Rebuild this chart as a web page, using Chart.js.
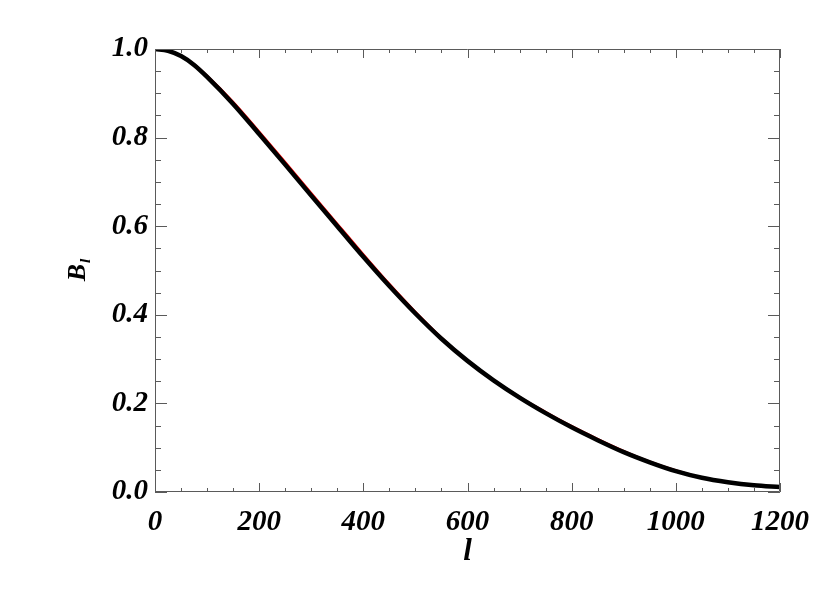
<!DOCTYPE html>
<html>
<head>
<meta charset="utf-8">
<script src="https://cdn.jsdelivr.net/npm/chart.js@4"></script>
<style>
  html, body { margin: 0; padding: 0; background: #fff; }
  #wrap { width: 830px; height: 591px; }
</style>
</head>
<body>
<div id="wrap"><canvas id="beamChart" width="830" height="591"></canvas></div>
<script>
// multipole l
const ells = [0, 25, 50, 75, 100, 150, 200, 250, 300, 350, 400, 450, 500, 550, 600,
  650, 700, 750, 800, 850, 900, 950, 1000, 1050, 1100, 1150, 1200];
// beam window (black)
const beamBlack = [1.000, 0.996, 0.984, 0.964, 0.937, 0.876, 0.808, 0.739, 0.669, 0.600, 0.531,
  0.465, 0.403, 0.346, 0.296, 0.252, 0.213, 0.178, 0.146, 0.117, 0.090, 0.067, 0.047, 0.032,
  0.022, 0.015, 0.011];
// beam window (red)
const beamRed = [1.000, 0.996, 0.985, 0.966, 0.940, 0.881, 0.814, 0.745, 0.675, 0.606, 0.537,
  0.470, 0.407, 0.349, 0.298, 0.254, 0.215, 0.181, 0.149, 0.120, 0.093, 0.069, 0.049, 0.033,
  0.022, 0.015, 0.011];
const xTicks = [0, 200, 400, 600, 800, 1000, 1200];
const yTicks = [0.0, 0.2, 0.4, 0.6, 0.8, 1.0];

const labelFont = { family: "Liberation Serif", size: 29, weight: "bold", style: "italic" };

// IDL style frame with inward ticks on all four sides
const frameTicks = {
  id: "frameTicks",
  afterDatasetsDraw(chart) {
    const { ctx, chartArea: a, scales } = chart;
    const xs = scales.x, ys = scales.y;
    ctx.save();
    ctx.strokeStyle = "#5a5a5a";
    ctx.lineWidth = 1;
    ctx.beginPath();
    ctx.rect(a.left + 0.5, a.top + 0.5, a.right - a.left - 1, a.bottom - a.top - 1);
    for (let v = 0; v <= 1200; v += 50) {
      const px = Math.round(xs.getPixelForValue(v)) + 0.5;
      const len = v % 200 === 0 ? 9 : 4;
      ctx.moveTo(px, a.bottom); ctx.lineTo(px, a.bottom - len);
      ctx.moveTo(px, a.top); ctx.lineTo(px, a.top + len);
    }
    for (let i = 0; i <= 20; i++) {
      const py = Math.round(ys.getPixelForValue(i * 0.05)) + 0.5;
      const len = i % 4 === 0 ? 12 : 6;
      ctx.moveTo(a.left, py); ctx.lineTo(a.left + len, py);
      ctx.moveTo(a.right, py); ctx.lineTo(a.right - len, py);
    }
    ctx.stroke();

    // axis titles
    ctx.fillStyle = "#000";
    ctx.textAlign = "center";
    ctx.textBaseline = "middle";
    ctx.font = "italic bold 31px 'Liberation Serif'";
    ctx.fillText("l", (a.left + a.right) / 2, 552);

    ctx.translate(76, (a.top + a.bottom) / 2);
    ctx.rotate(-Math.PI / 2);
    ctx.textAlign = "left";
    ctx.textBaseline = "alphabetic";
    ctx.font = "italic bold 26px 'Liberation Serif'";
    const bw = ctx.measureText("B").width;
    ctx.font = "italic bold 15px 'Liberation Serif'";
    const lw = ctx.measureText("l").width;
    const x0 = -(bw + lw) / 2;
    ctx.font = "italic bold 26px 'Liberation Serif'";
    ctx.fillText("B", x0, 9);
    ctx.font = "italic bold 15px 'Liberation Serif'";
    ctx.fillText("l", x0 + bw + 1, 14);
    ctx.restore();
  }
};

new Chart(document.getElementById("beamChart"), {
  type: "line",
  data: {
    labels: ells,
    datasets: [
      {
        label: "red",
        data: ells.map((l, i) => ({ x: l, y: beamRed[i] })),
        borderColor: "#ff0000",
        borderWidth: 2,
        pointRadius: 0,
        cubicInterpolationMode: "monotone",
        order: 2,
      },
      {
        label: "black",
        data: ells.map((l, i) => ({ x: l, y: beamBlack[i] })),
        borderColor: "#000000",
        borderWidth: 4.5,
        pointRadius: 0,
        cubicInterpolationMode: "monotone",
        order: 1,
      },
    ],
  },
  options: {
    responsive: false,
    animation: false,
    layout: { padding: { top: 49, right: 50, bottom: 0, left: 0 } },
    plugins: { legend: { display: false }, tooltip: { enabled: false } },
    scales: {
      x: {
        type: "linear",
        min: 0,
        max: 1200,
        grid: { display: false, drawTicks: false },
        border: { display: false },
        afterFit: (s) => { s.height = 99; },
        afterBuildTicks: (s) => { s.ticks = xTicks.map((v) => ({ value: v })); },
        ticks: {
          color: "#000",
          font: labelFont,
          padding: 13,
          maxRotation: 0,
          callback: (v) => String(v),
        },
      },
      y: {
        type: "linear",
        min: 0,
        max: 1.0,
        grid: { display: false, drawTicks: false },
        border: { display: false },
        afterFit: (s) => { s.width = 155; },
        afterBuildTicks: (s) => { s.ticks = yTicks.map((v) => ({ value: v })); },
        ticks: {
          color: "#000",
          font: labelFont,
          padding: 7,
          callback: (v) => Number(v).toFixed(1),
        },
      },
    },
  },
  plugins: [frameTicks],
});
</script>
</body>
</html>
